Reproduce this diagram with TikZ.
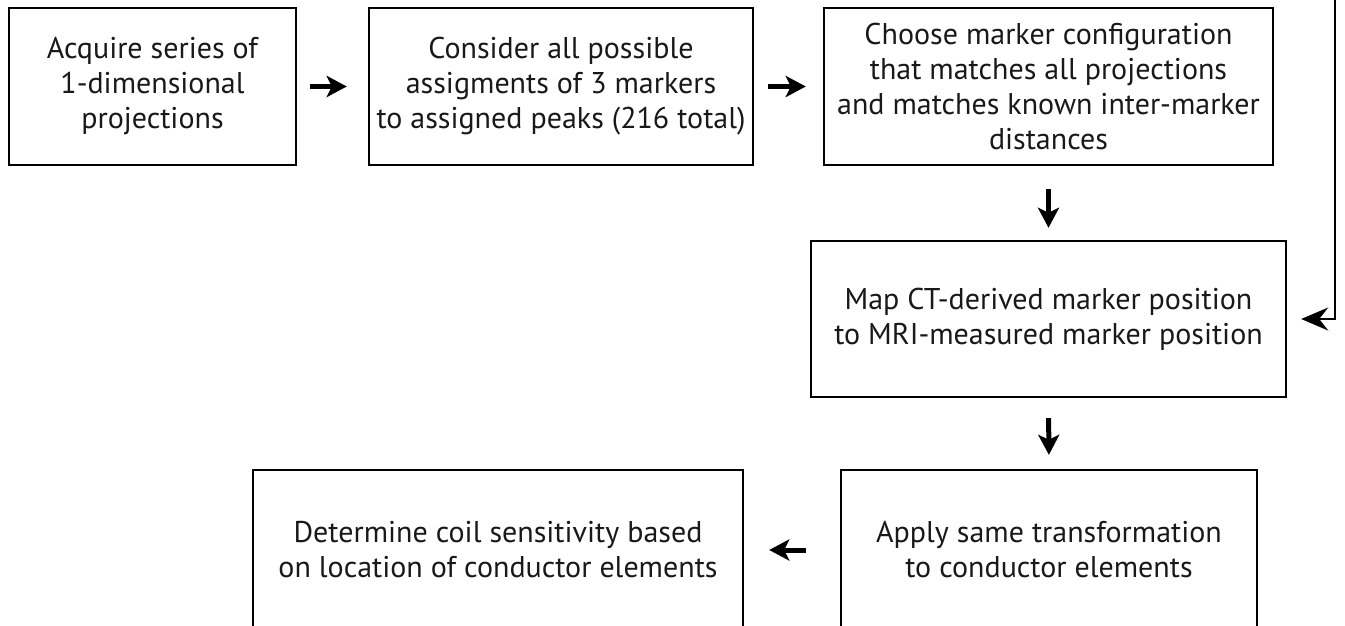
\documentclass[tikz,border=0pt]{standalone}
\usepackage{fontspec}
\setmainfont{PT Sans}
\usetikzlibrary{arrows.meta}
\begin{document}
\begin{tikzpicture}[x=1pt,y=-1pt,
  stepbox/.style={draw=black, line width=2.4pt, inner sep=0pt, align=center,
    font=\fontsize{30}{35}\selectfont, text=black!90},
  flow/.style={line width=5pt, -{Stealth[length=20pt,width=21pt,inset=5pt]}},
  loopline/.style={line width=2.4pt, -{Stealth[length=27pt,width=23pt,inset=9pt]}}]
\useasboundingbox (0,0) rectangle (1345,625);
\clip (0,0) rectangle (1345,625);
\fill[white] (0,0) rectangle (1345,625);

% process steps
\node[stepbox, minimum width=287pt, minimum height=157pt] (acq) at (152.5,86.5)
  {Acquire series of\\1-dimensional\\projections};
\node[stepbox, minimum width=384pt, minimum height=157pt] (asg) at (561,86.5)
  {Consider all possible\\assigments of 3 markers\\to assigned peaks (216 total)};
\node[stepbox, minimum width=449pt, minimum height=157pt] (cho) at (1048.5,86.5)
  {Choose marker configuration\\that matches all projections\\and matches known inter-marker\\distances};
\node[stepbox, minimum width=475pt, minimum height=156pt] (map) at (1048.5,319)
  {Map CT-derived marker position\\to MRI-measured marker position};
\node[stepbox, minimum width=416pt, minimum height=160pt] (app) at (1049,550)
  {Apply same transformation\\to conductor elements};
\node[stepbox, minimum width=490pt, minimum height=160pt] (det) at (498,550)
  {Determine coil sensitivity based\\on location of conductor elements};

% connectors
\draw[flow, shorten <=13pt, shorten >=21pt] (acq.east) -- (asg.west);
\draw[flow, shorten <=14pt, shorten >=17pt] (asg.east) -- (cho.west);
\draw[flow, shorten <=23pt, shorten >=12pt] (cho.south) -- (map.north);
\draw[flow, shorten <=20pt, shorten >=14pt] (map.south) -- (app.north);
\draw[flow, shorten <=34pt, shorten >=25pt] (app.west) -- (det.east);

% feedback line entering from above
\coordinate (loopin) at (1335,-10);
\draw[loopline, shorten >=14pt] (loopin) |- (map.east);
\end{tikzpicture}
\end{document}
